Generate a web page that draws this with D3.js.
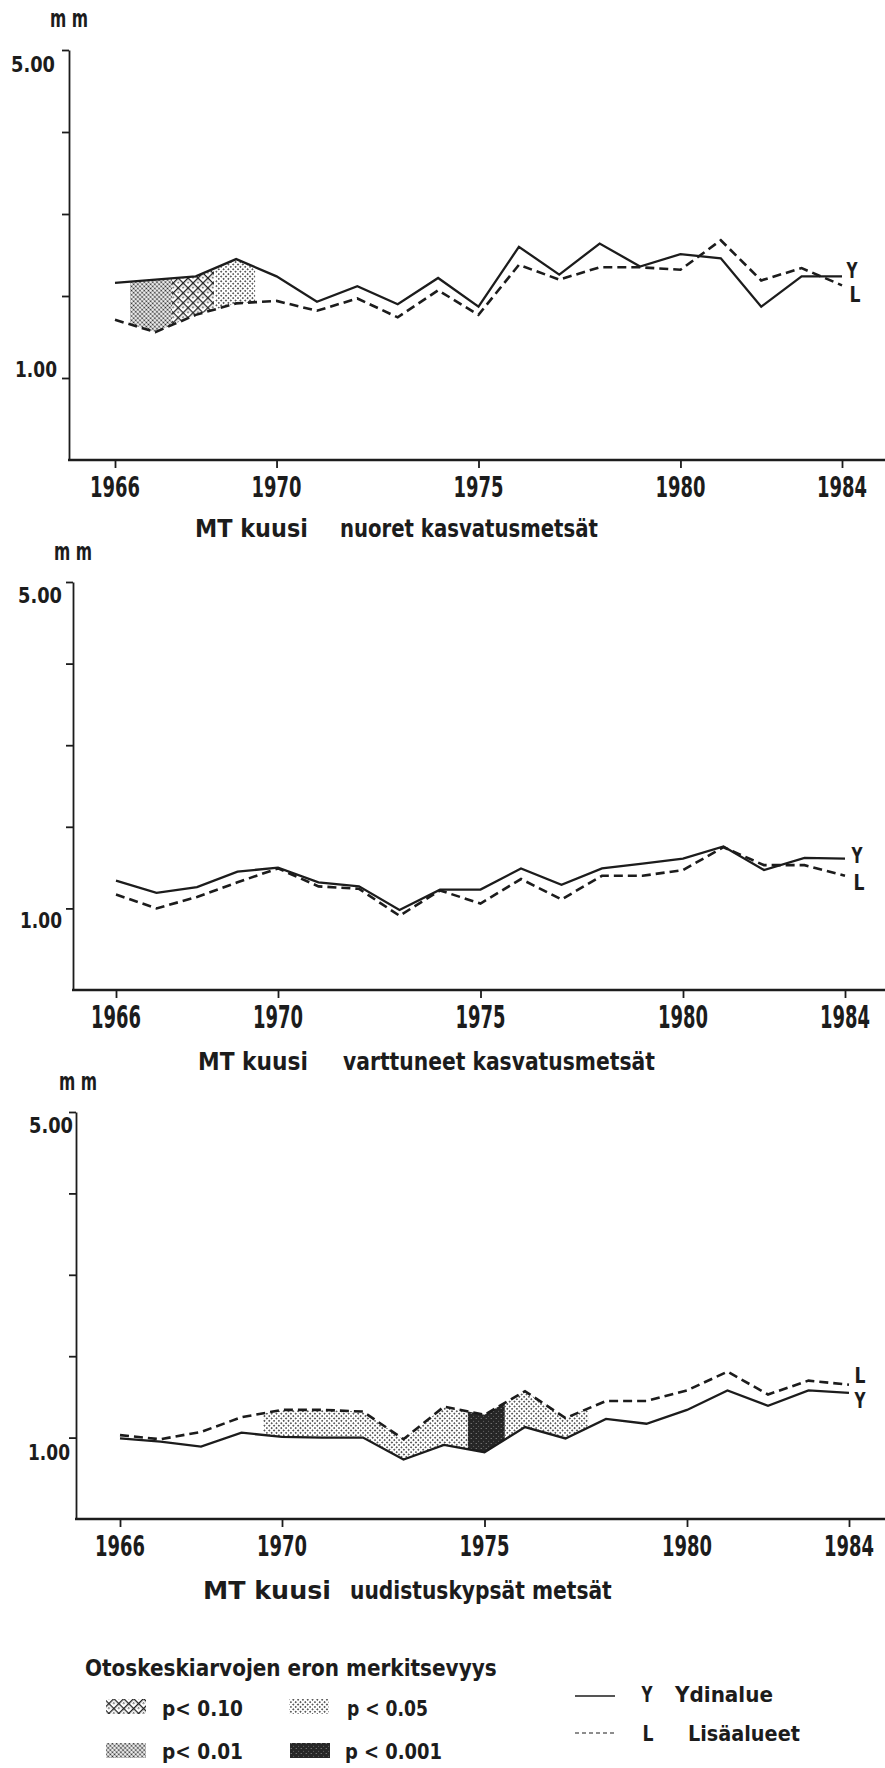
<!DOCTYPE html>
<html>
<head>
<meta charset="utf-8">
<script src="https://cdn.jsdelivr.net/npm/d3@7"></script>
<style>
  body { margin: 0; background: #fff; }
  text { font-family: "DejaVu Sans Condensed", "DejaVu Sans", sans-serif; font-weight: bold; fill: #1c1c1c; }
</style>
</head>
<body>
<div id="chart"></div>
<script>
//DATA--------------------
var years = d3.range(1966, 1985);
var tickYears = [1966, 1970, 1975, 1980, 1984];
var yTicks = [1, 2, 3, 4, 5];

// MT kuusi, nuoret kasvatusmetsät (mm)
var nuoretY = [2.16, 2.20, 2.24, 2.45, 2.24, 1.93, 2.12, 1.90, 2.22, 1.87, 2.60, 2.26, 2.64, 2.36, 2.51, 2.46, 1.87, 2.24, 2.24];
var nuoretL = [1.71, 1.56, 1.77, 1.91, 1.94, 1.82, 1.97, 1.74, 2.07, 1.77, 2.38, 2.20, 2.35, 2.35, 2.32, 2.68, 2.19, 2.34, 2.13];

// MT kuusi, varttuneet kasvatusmetsät
var varttY = [1.34, 1.19, 1.26, 1.45, 1.50, 1.32, 1.27, 0.98, 1.23, 1.23, 1.49, 1.29, 1.49, 1.55, 1.61, 1.76, 1.47, 1.62, 1.61];
var varttL = [1.17, 1.00, 1.14, 1.32, 1.49, 1.27, 1.24, 0.91, 1.22, 1.06, 1.36, 1.11, 1.40, 1.40, 1.47, 1.75, 1.53, 1.53, 1.40];

// MT kuusi, uudistuskypsät metsät
var uudY = [0.99, 0.95, 0.89, 1.06, 1.01, 1.00, 1.00, 0.73, 0.91, 0.82, 1.13, 0.99, 1.23, 1.17, 1.34, 1.58, 1.39, 1.58, 1.55];
var uudL = [1.03, 0.98, 1.07, 1.25, 1.34, 1.34, 1.32, 0.98, 1.38, 1.28, 1.57, 1.24, 1.45, 1.45, 1.58, 1.81, 1.53, 1.70, 1.65];

// significance of the difference, as year spans
var nuoretBands = [
  {from: 1966.37, to: 1967.41, level: "p01"},
  {from: 1967.41, to: 1968.45, level: "p10"},
  {from: 1968.48, to: 1969.47, level: "p05"}
];
var varttBands = [];
var uudBands = [
  {from: 1969.53, to: 1974.59, level: "p05"},
  {from: 1974.59, to: 1975.50, level: "p001"},
  {from: 1975.50, to: 1977.56, level: "p05"}
];

var legendLevels = ["p10", "p05", "p01", "p001"];
var legendLabels = ["p< 0.10", "p < 0.05", "p< 0.01", "p < 0.001"];

//LAYOUT--------------------
var svgWidth = 885;
var svgHeight = 1768;

var panels = [
  {Y: nuoretY, L: nuoretL, bands: nuoretBands, axisX: 69, yTop: 50, yZero: 460, x0: 115, x1: 842,
   titleA: "MT kuusi", titleB: "nuoret kasvatusmetsät", tA: [195, 113], tB: [340, 258], titleY: 537, tickLabelY: 497, tickFont: 29,
   mm: [50, 27], lab5: [55, 72], lab1: [57, 377], endY: ["Y", 852, 278], endL: ["L", 855, 302]},
  {Y: varttY, L: varttL, bands: varttBands, axisX: 73, yTop: 582, yZero: 990, x0: 116, x1: 845,
   titleA: "MT kuusi", titleB: "varttuneet kasvatusmetsät", tA: [198, 110], tB: [343, 312], titleY: 1070, tickLabelY: 1028, tickFont: 32,
   mm: [54, 560], lab5: [62, 603], lab1: [62, 928], endY: ["Y", 857, 863], endL: ["L", 859, 890]},
  {Y: uudY, L: uudL, bands: uudBands, axisX: 76, yTop: 1112, yZero: 1519, x0: 120, x1: 849,
   titleA: "MT kuusi", titleB: "uudistuskypsät metsät", tA: [203, 128], tB: [350, 262], titleY: 1599, tickLabelY: 1556, tickFont: 29,
   mm: [59, 1090], lab5: [73, 1133], lab1: [70, 1460], endY: ["Y", 860, 1408], endL: ["L", 860, 1383]}
];

var svg = d3.select("#chart")
  .append("svg")
  .attr("width", svgWidth)
  .attr("height", svgHeight);

//PATTERNS--------------------
var defs = svg.append("defs");

var p05 = defs.append("pattern").attr("id", "p05")
  .attr("patternUnits", "userSpaceOnUse").attr("width", 3.4).attr("height", 3.4)
  .attr("patternTransform", "rotate(45)");
p05.append("circle").attr("cx", 1.7).attr("cy", 1.7).attr("r", 0.85).attr("fill", "#222");

var p01 = defs.append("pattern").attr("id", "p01")
  .attr("patternUnits", "userSpaceOnUse").attr("width", 3).attr("height", 3)
  .attr("patternTransform", "rotate(45)");
p01.append("circle").attr("cx", 1.5).attr("cy", 1.5).attr("r", 1.05).attr("fill", "#222");

var p10 = defs.append("pattern").attr("id", "p10")
  .attr("patternUnits", "userSpaceOnUse").attr("width", 7).attr("height", 7)
  .attr("patternTransform", "rotate(45)");
p10.append("rect").attr("width", 7).attr("height", 7).attr("fill", "#fff");
p10.append("path").attr("d", "M0,0.6H7M0.6,0V7").attr("stroke", "#222").attr("stroke-width", 1.4);
p10.append("circle").attr("cx", 3.8).attr("cy", 3.8).attr("r", 0.9).attr("fill", "#444");

var p001 = defs.append("pattern").attr("id", "p001")
  .attr("patternUnits", "userSpaceOnUse").attr("width", 5).attr("height", 5);
p001.append("rect").attr("width", 5).attr("height", 5).attr("fill", "#262626");
p001.append("circle").attr("cx", 1.2).attr("cy", 3.5).attr("r", 0.6).attr("fill", "#999");
p001.append("circle").attr("cx", 3.6).attr("cy", 1.3).attr("r", 0.5).attr("fill", "#777");

//FUNCTIONS--------------------
// bold condensed lettering, squeezed horizontally to the width seen in the scan
function label(g, x, y, str, size, len, anchor) {
  var t = g.append("text")
    .attr("font-size", size)
    .attr("text-anchor", anchor || "start")
    .text(str);
  var sx = 1;
  if (len) {
    var natural = t.node().getComputedTextLength();
    if (natural > 0) sx = len / natural;
  }
  t.attr("transform", `translate(${x},${y}) scale(${sx},1)`);
  return t;
}

function drawPanel(p, i) {
  var g = svg.append("g");

  var xScale = d3.scaleLinear().domain([1966, 1984]).range([p.x0, p.x1]);
  var yScale = d3.scaleLinear().domain([0, 5]).range([p.yZero, p.yTop]);

  var rows = years.map((yr, k) => ({year: yr, y: p.Y[k], l: p.L[k]}));

  // shaded significance bands between the two lines
  var between = d3.area()
    .x(d => xScale(d.year))
    .y0(d => yScale(d.y))
    .y1(d => yScale(d.l));

  p.bands.forEach((b, j) => {
    var id = "clip" + i + "_" + j;
    defs.append("clipPath").attr("id", id)
      .append("rect")
      .attr("x", xScale(b.from))
      .attr("y", p.yTop)
      .attr("width", xScale(b.to) - xScale(b.from))
      .attr("height", p.yZero - p.yTop);
    g.append("path")
      .datum(rows)
      .attr("d", between)
      .attr("fill", "url(#" + b.level + ")")
      .attr("clip-path", "url(#" + id + ")");
  });

  // y axis
  var leftAxis = d3.axisLeft(yScale)
    .tickValues(yTicks)
    .tickSize(7)
    .tickSizeOuter(0)
    .tickFormat("");
  var yAxis = g.append("g")
    .attr("transform", `translate(${p.axisX},0)`)
    .call(leftAxis);
  yAxis.selectAll("path, line").attr("stroke", "#1c1c1c").attr("stroke-width", 1.8);

  // x axis: long base line plus year ticks
  g.append("line")
    .attr("x1", p.axisX - 1).attr("x2", svgWidth)
    .attr("y1", p.yZero).attr("y2", p.yZero)
    .attr("stroke", "#1c1c1c").attr("stroke-width", 2.4);

  var bottomAxis = d3.axisBottom(xScale)
    .tickValues(tickYears)
    .tickSize(8)
    .tickFormat("");
  var xAxis = g.append("g")
    .attr("transform", `translate(0,${p.yZero})`)
    .call(bottomAxis);
  xAxis.select(".domain").remove();
  xAxis.selectAll("line").attr("stroke", "#1c1c1c").attr("stroke-width", 1.8);

  tickYears.forEach(yr => {
    label(g, xScale(yr), p.tickLabelY, String(yr), p.tickFont, 50, "middle");
  });

  label(g, p.lab5[0], p.lab5[1], "5.00", 21, 44, "end");
  label(g, p.lab1[0], p.lab1[1], "1.00", 21, 42, "end");
  label(g, p.mm[0], p.mm[1], "m m", 24, 38);

  // the two series
  var lineY = d3.line().x(d => xScale(d.year)).y(d => yScale(d.y));
  var lineL = d3.line().x(d => xScale(d.year)).y(d => yScale(d.l));

  g.append("path")
    .datum(rows)
    .attr("d", lineL)
    .attr("fill", "none")
    .attr("stroke", "#1c1c1c")
    .attr("stroke-width", 2.6)
    .attr("stroke-dasharray", "9,5");

  g.append("path")
    .datum(rows)
    .attr("d", lineY)
    .attr("fill", "none")
    .attr("stroke", "#1c1c1c")
    .attr("stroke-width", 2.3);

  label(g, p.endY[1], p.endY[2], p.endY[0], 22, 11, "middle");
  label(g, p.endL[1], p.endL[2], p.endL[0], 22, 11, "middle");

  // title under the panel
  label(g, p.tA[0], p.titleY, p.titleA, 25, p.tA[1]);
  label(g, p.tB[0], p.titleY, p.titleB, 25, p.tB[1]);
}

//MAIN--------------------
panels.forEach(drawPanel);

// legend
var legend = svg.append("g");
label(legend, 85, 1676, "Otoskeskiarvojen eron merkitsevyys", 23, 412);

var swatchX = [106, 289, 106, 290];
var swatchY = [1699, 1699, 1743, 1743];
var textX = [162, 347, 162, 345];
var textY = [1716, 1716, 1759, 1759];
var textLen = [81, 81, 81, 97];

legendLevels.forEach((lv, k) => {
  legend.append("rect")
    .attr("x", swatchX[k]).attr("y", swatchY[k])
    .attr("width", 40).attr("height", 15)
    .attr("fill", "url(#" + lv + ")");
  label(legend, textX[k], textY[k], legendLabels[k], 21, textLen[k]);
});

legend.append("line")
  .attr("x1", 575).attr("x2", 615).attr("y1", 1696).attr("y2", 1696)
  .attr("stroke", "#1c1c1c").attr("stroke-width", 1.6);
legend.append("line")
  .attr("x1", 575).attr("x2", 615).attr("y1", 1733).attr("y2", 1733)
  .attr("stroke", "#1c1c1c").attr("stroke-width", 1.2)
  .attr("stroke-dasharray", "4,3");

label(legend, 647, 1702, "Y", 22, 11, "middle");
label(legend, 675, 1702, "Ydinalue", 22, 98);
label(legend, 648, 1741, "L", 22, 11, "middle");
label(legend, 688, 1741, "Lisäalueet", 22, 112);
</script>
</body>
</html>
